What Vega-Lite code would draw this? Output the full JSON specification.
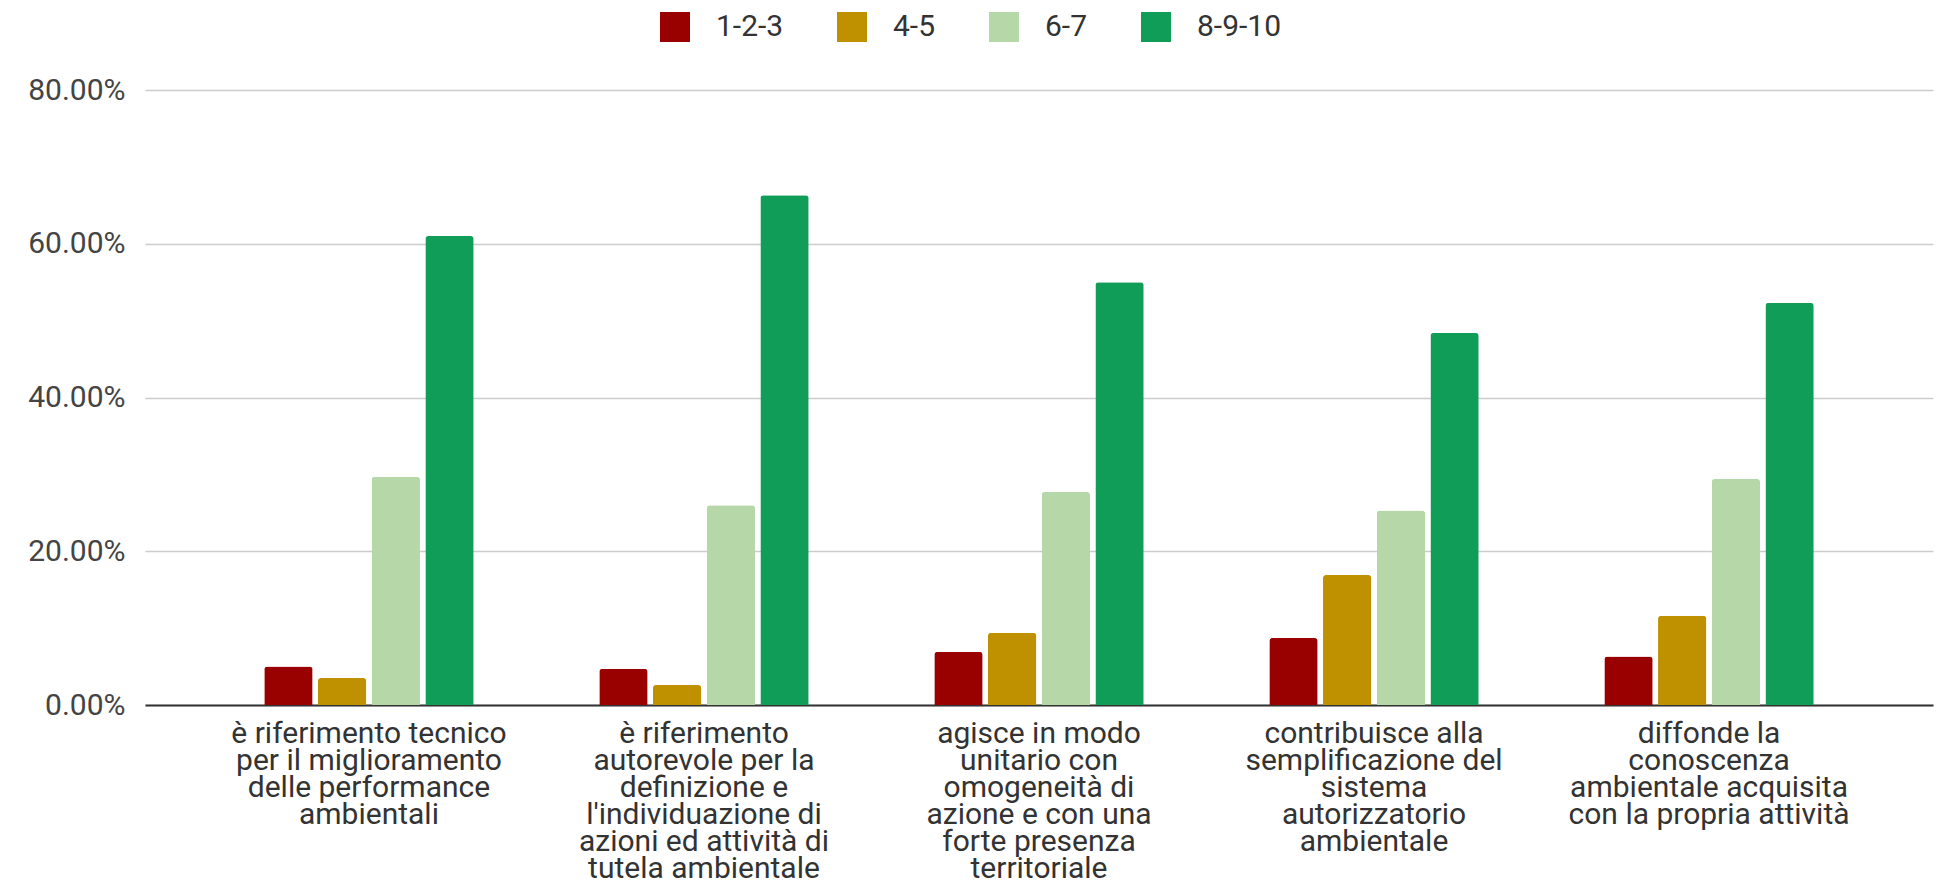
{
  "$schema": "https://vega.github.io/schema/vega-lite/v6.json",
  "width": 1788,
  "height": 615,
  "autosize": "none",
  "padding": {"left": 145, "top": 90, "right": 10, "bottom": 187},
  "background": "white",
  "config": {
    "view": {"stroke": null},
    "font": "Roboto"
  },
  "data": {
    "values": [
      {"aspetto": "è riferimento tecnico per il miglioramento delle performance ambientali", "voto": "1-2-3", "quota": 0.050},
      {"aspetto": "è riferimento tecnico per il miglioramento delle performance ambientali", "voto": "4-5", "quota": 0.035},
      {"aspetto": "è riferimento tecnico per il miglioramento delle performance ambientali", "voto": "6-7", "quota": 0.297},
      {"aspetto": "è riferimento tecnico per il miglioramento delle performance ambientali", "voto": "8-9-10", "quota": 0.610},
      {"aspetto": "è riferimento autorevole per la definizione e l'individuazione di azioni ed attività di tutela ambientale", "voto": "1-2-3", "quota": 0.047},
      {"aspetto": "è riferimento autorevole per la definizione e l'individuazione di azioni ed attività di tutela ambientale", "voto": "4-5", "quota": 0.026},
      {"aspetto": "è riferimento autorevole per la definizione e l'individuazione di azioni ed attività di tutela ambientale", "voto": "6-7", "quota": 0.260},
      {"aspetto": "è riferimento autorevole per la definizione e l'individuazione di azioni ed attività di tutela ambientale", "voto": "8-9-10", "quota": 0.663},
      {"aspetto": "agisce in modo unitario con omogeneità di azione e con una forte presenza territoriale", "voto": "1-2-3", "quota": 0.069},
      {"aspetto": "agisce in modo unitario con omogeneità di azione e con una forte presenza territoriale", "voto": "4-5", "quota": 0.094},
      {"aspetto": "agisce in modo unitario con omogeneità di azione e con una forte presenza territoriale", "voto": "6-7", "quota": 0.277},
      {"aspetto": "agisce in modo unitario con omogeneità di azione e con una forte presenza territoriale", "voto": "8-9-10", "quota": 0.550},
      {"aspetto": "contribuisce alla semplificazione del sistema autorizzatorio ambientale", "voto": "1-2-3", "quota": 0.087},
      {"aspetto": "contribuisce alla semplificazione del sistema autorizzatorio ambientale", "voto": "4-5", "quota": 0.169},
      {"aspetto": "contribuisce alla semplificazione del sistema autorizzatorio ambientale", "voto": "6-7", "quota": 0.253},
      {"aspetto": "contribuisce alla semplificazione del sistema autorizzatorio ambientale", "voto": "8-9-10", "quota": 0.484},
      {"aspetto": "diffonde la conoscenza ambientale acquisita con la propria attività", "voto": "1-2-3", "quota": 0.063},
      {"aspetto": "diffonde la conoscenza ambientale acquisita con la propria attività", "voto": "4-5", "quota": 0.116},
      {"aspetto": "diffonde la conoscenza ambientale acquisita con la propria attività", "voto": "6-7", "quota": 0.294},
      {"aspetto": "diffonde la conoscenza ambientale acquisita con la propria attività", "voto": "8-9-10", "quota": 0.523}
    ]
  },
  "mark": {"type": "bar", "cornerRadiusTopLeft": 3, "cornerRadiusTopRight": 3},
  "encoding": {
    "x": {
      "field": "aspetto",
      "type": "nominal",
      "sort": null,
      "scale": {"paddingInner": 0.375, "paddingOuter": 0.356},
      "axis": {
        "title": null,
        "labelAngle": 0,
        "labelFont": "Roboto",
        "labelFontSize": 30,
        "labelColor": "#333333",
        "labelLineHeight": 27,
        "labelPadding": 13,
        "labelLimit": 0,
        "labelBaseline": "top",
        "ticks": false,
        "domainColor": "#333333",
        "domainWidth": 2,
        "labelExpr": "datum.value == 'è riferimento tecnico per il miglioramento delle performance ambientali' ? ['è riferimento tecnico', 'per il miglioramento', 'delle performance', 'ambientali'] : datum.value == 'agisce in modo unitario con omogeneità di azione e con una forte presenza territoriale' ? ['agisce in modo', 'unitario con', 'omogeneità di', 'azione e con una', 'forte presenza', 'territoriale'] : datum.value == 'contribuisce alla semplificazione del sistema autorizzatorio ambientale' ? ['contribuisce alla', 'semplificazione del', 'sistema', 'autorizzatorio', 'ambientale'] : datum.value == 'diffonde la conoscenza ambientale acquisita con la propria attività' ? ['diffonde la', 'conoscenza', 'ambientale acquisita', 'con la propria attività'] : ['è riferimento', 'autorevole per la', 'definizione e', \"l'individuazione di\", 'azioni ed attività di', 'tutela ambientale']"
      }
    },
    "xOffset": {
      "field": "voto",
      "type": "nominal",
      "sort": ["1-2-3", "4-5", "6-7", "8-9-10"],
      "scale": {"paddingInner": 0.1, "paddingOuter": 0}
    },
    "y": {
      "field": "quota",
      "type": "quantitative",
      "scale": {"domain": [0, 0.8]},
      "axis": {
        "title": null,
        "values": [0, 0.2, 0.4, 0.6, 0.8],
        "format": ".2%",
        "labelFont": "Roboto",
        "labelFontSize": 30,
        "labelColor": "#444444",
        "labelPadding": 20,
        "ticks": false,
        "domain": false,
        "gridColor": "#cccccc",
        "gridWidth": 1.5
      }
    },
    "color": {
      "field": "voto",
      "type": "nominal",
      "sort": ["1-2-3", "4-5", "6-7", "8-9-10"],
      "scale": {
        "domain": ["1-2-3", "4-5", "6-7", "8-9-10"],
        "range": ["#990000", "#bf9000", "#b6d7a8", "#0f9d58"]
      },
      "legend": {
        "title": null,
        "orient": "none",
        "direction": "horizontal",
        "legendX": 515,
        "legendY": -78,
        "symbolType": "square",
        "symbolSize": 900,
        "symbolStrokeWidth": 0,
        "symbolOpacity": 1,
        "labelFont": "Roboto",
        "labelFontSize": 30,
        "labelColor": "#333333",
        "labelOffset": 26,
        "columnPadding": 53
      }
    }
  }
}
